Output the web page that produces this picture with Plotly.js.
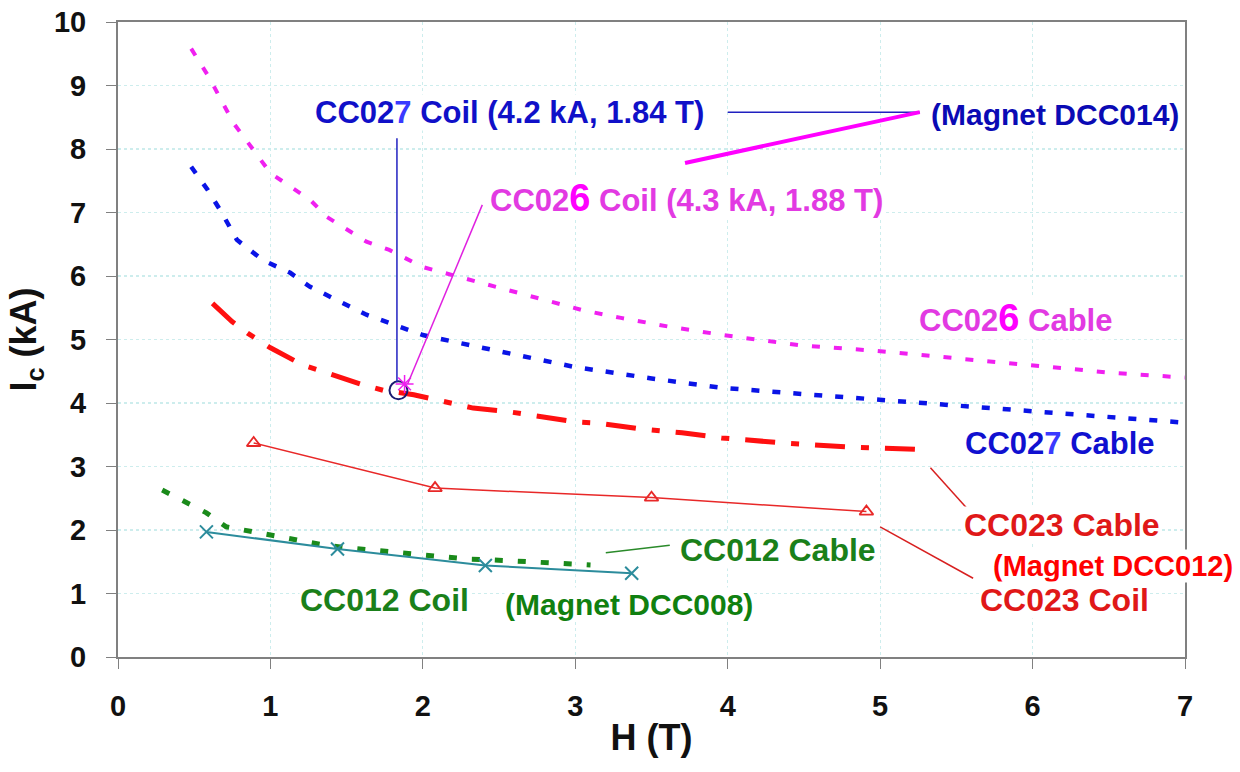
<!DOCTYPE html>
<html>
<head>
<meta charset="utf-8">
<script src="https://cdn.plot.ly/plotly-3.0.1.min.js"></script>
<style>html,body{margin:0;padding:0;background:#fff;}#chart{width:1240px;height:772px;}</style>
</head>
<body>
<div id="chart"></div>
<script>
// ---- Data ----
const cc026CableH  = [0.48,0.60,0.67,0.76,0.89,1.00,1.26,1.37,1.63,1.78,2.00,2.31,2.62,3.05,3.30,3.62,3.97,4.47,4.98,5.50,6.00,6.50,7.00];
const cc026CableIc = [9.58,9.12,8.80,8.40,7.98,7.62,7.20,6.93,6.54,6.41,6.14,5.94,5.75,5.46,5.34,5.20,5.07,4.91,4.82,4.70,4.58,4.48,4.40];

const cc027CableH  = [0.48,0.59,0.68,0.78,0.95,1.13,1.26,1.44,1.63,1.78,2.00,2.31,2.62,2.99,3.49,3.96,4.50,4.99,5.50,5.98,6.50,6.94,7.00];
const cc027CableIc = [7.72,7.35,7.00,6.57,6.25,6.05,5.83,5.62,5.39,5.26,5.07,4.91,4.76,4.57,4.39,4.24,4.14,4.05,3.95,3.86,3.77,3.70,3.69];

const cc023CableH  = [0.62,0.75,0.85,1.00,1.21,1.46,1.59,1.74,1.94,2.09,2.33,2.57,2.85,3.01,3.16,3.40,3.70,3.96,4.37,4.77,5.24];
const cc023CableIc = [5.57,5.28,5.10,4.87,4.60,4.39,4.30,4.20,4.13,4.05,3.92,3.86,3.76,3.70,3.68,3.60,3.53,3.45,3.37,3.31,3.27];

const cc023CoilH   = [0.89,2.08,3.50,4.91];
const cc023CoilIc  = [3.37,2.66,2.51,2.29];

const cc012CableH  = [0.29,0.44,0.58,0.71,0.89,1.04,1.21,1.36,1.51,1.67,1.83,1.98,2.13,2.30,2.45,2.62,2.77,2.92,3.10];
const cc012CableIc = [2.63,2.44,2.27,2.05,1.97,1.89,1.81,1.76,1.72,1.68,1.64,1.61,1.57,1.54,1.53,1.51,1.49,1.48,1.45];

const cc012CoilH   = [0.58,1.44,2.41,3.37];
const cc012CoilIc  = [1.97,1.70,1.44,1.32];

const cc027CoilH = [1.84], cc027CoilIc = [4.2];
const cc026CoilH = [1.88], cc026CoilIc = [4.3];

const xTicks = [0,1,2,3,4,5,6,7];
const yTicks = [0,1,2,3,4,5,6,7,8,9,10];

// ---- Labels (text, centre position in data units, colour) ----
const labelTexts = [
  "CC02<span style='color:#3A3AFF'>7</span> Coil (4.2 kA, 1.84 T)",
  "CC02<span style='font-size:38px;color:#FF00FF'>6</span> Coil (4.3 kA, 1.88 T)",
  "(Magnet DCC014)",
  "CC02<span style='font-size:38px;color:#FF00FF'>6</span> Cable",
  "CC02<span style='color:#3A3AFF'>7</span> Cable",
  "CC023 Cable",
  "(Magnet DCC012)",
  "CC023 Coil",
  "CC012 Cable",
  "CC012 Coil",
  "(Magnet DCC008)"
];
const labelX = [2.57,3.73,6.15,5.89,6.18,6.19,6.53,6.21,4.33,1.75,3.35];
const labelY = [8.57,7.23,8.54,5.34,3.37,2.08,1.43,0.90,1.69,0.90,0.82];
const labelColors = ["#1010C8","#E23AE2","#0A0AB4","#E23AE2","#1010D0","#E01818","#FF0000","#E01818","#1A801A","#1A801A","#108010"];
const labelSizes = [31,31,30,31,31,32,29,32,32,32,30];

// ---- Leader lines: [x0,y0,x1,y1] ----
const leaderX0 = [1.83,2.39,4.00,3.72,5.33,5.00,3.20];
const leaderY0 = [8.17,7.12,8.58,7.78,2.98,2.05,1.64];
const leaderX1 = [1.83,1.90,5.26,5.26,5.60,5.61,3.62];
const leaderY1 = [4.33,4.30,8.58,8.58,2.26,1.24,1.76];
const leaderColors = ["#2020C0","#E020E0","#2020C0","#FF00FF","#D82020","#D82020","#2A8A2A"];
const leaderWidths = [1.5,1.5,1.5,4,1.5,1.5,1.5];

const traces = [
  {x: cc026CableH, y: cc026CableIc, mode:'lines', line:{color:'#F020F0', width:4, dash:'8px,14px'}},
  {x: cc027CableH, y: cc027CableIc, mode:'lines', line:{color:'#0A14E6', width:4.5, dash:'8px,13px'}},
  {x: cc023CableH, y: cc023CableIc, mode:'lines', line:{color:'#FF1010', width:5, dash:'30px,16px,8px,16px'}},
  {x: cc023CoilH, y: cc023CoilIc, mode:'lines+markers', line:{color:'#E82828', width:1.5},
   marker:{symbol:'triangle-up-open', size:12, color:'#E82828', line:{width:1.8}}},
  {x: cc012CableH, y: cc012CableIc, mode:'lines', line:{color:'#1A8A1A', width:5, dash:'8px,15px'}},
  {x: cc012CoilH, y: cc012CoilIc, mode:'lines+markers', line:{color:'#2C8C9C', width:2},
   marker:{symbol:'x-thin-open', size:13, color:'#2C8C9C', line:{width:2, color:'#2C8C9C'}}},
  {x: cc027CoilH, y: cc027CoilIc, mode:'markers',
   marker:{symbol:'circle-open', size:18, color:'#1A1A70', line:{width:2, color:'#1A1A70'}}},
  {x: cc026CoilH, y: cc026CoilIc, mode:'markers',
   marker:{symbol:'asterisk-open', size:15, color:'#F020F0', line:{width:1.5, color:'#F020F0'}}}
];

const annotations = labelTexts.map((t,i)=>({
  x: labelX[i], y: labelY[i], xref:'x', yref:'y', text: t, showarrow:false,
  font:{family:'Liberation Sans, Arial, sans-serif', size:labelSizes[i], color:labelColors[i], weight:700},
  bgcolor:'rgba(255,255,255,1)', borderpad:0
}));

const shapes = leaderX0.map((x0,i)=>({
  type:'line', xref:'x', yref:'y', x0:x0, y0:leaderY0[i], x1:leaderX1[i], y1:leaderY1[i],
  line:{color:leaderColors[i], width:leaderWidths[i]}
}));

const layout = {
  width:1240, height:772,
  margin:{l:118, r:55, t:22, b:115},
  paper_bgcolor:'#fff', plot_bgcolor:'#fff',
  showlegend:false,
  font:{family:'Liberation Sans, Arial, sans-serif', color:'#111'},
  xaxis:{
    range:[0,7], tickvals:xTicks, ticktext:xTicks.map(String),
    showgrid:true, gridcolor:'#CDEDED', griddash:'dot', gridwidth:1.2,
    zeroline:false, showline:true, linecolor:'#808080', linewidth:2, mirror:true,
    ticks:'outside', ticklen:10, tickcolor:'#808080', tickwidth:1,
    ticklabelstandoff:12,
    tickfont:{size:29, color:'#111', weight:700},
    title:{text:'H (T)', font:{size:36, color:'#111', weight:700}, standoff:4}
  },
  yaxis:{
    range:[0,10], tickvals:yTicks, ticktext:yTicks.map(String),
    showgrid:true, gridcolor:'#CDEDED', griddash:'dot', gridwidth:1.2,
    zeroline:false, showline:true, linecolor:'#808080', linewidth:2, mirror:true,
    ticks:'outside', ticklen:10, tickcolor:'#808080', tickwidth:1,
    ticklabelstandoff:14,
    tickfont:{size:29, color:'#111', weight:700},
    title:{text:'I<sub>c</sub> (kA)', font:{size:36, color:'#111', weight:700}, standoff:6}
  },
  annotations: annotations,
  shapes: shapes
};

Plotly.newPlot('chart', traces, layout, {displayModeBar:false, staticPlot:true});
</script>
</body>
</html>
